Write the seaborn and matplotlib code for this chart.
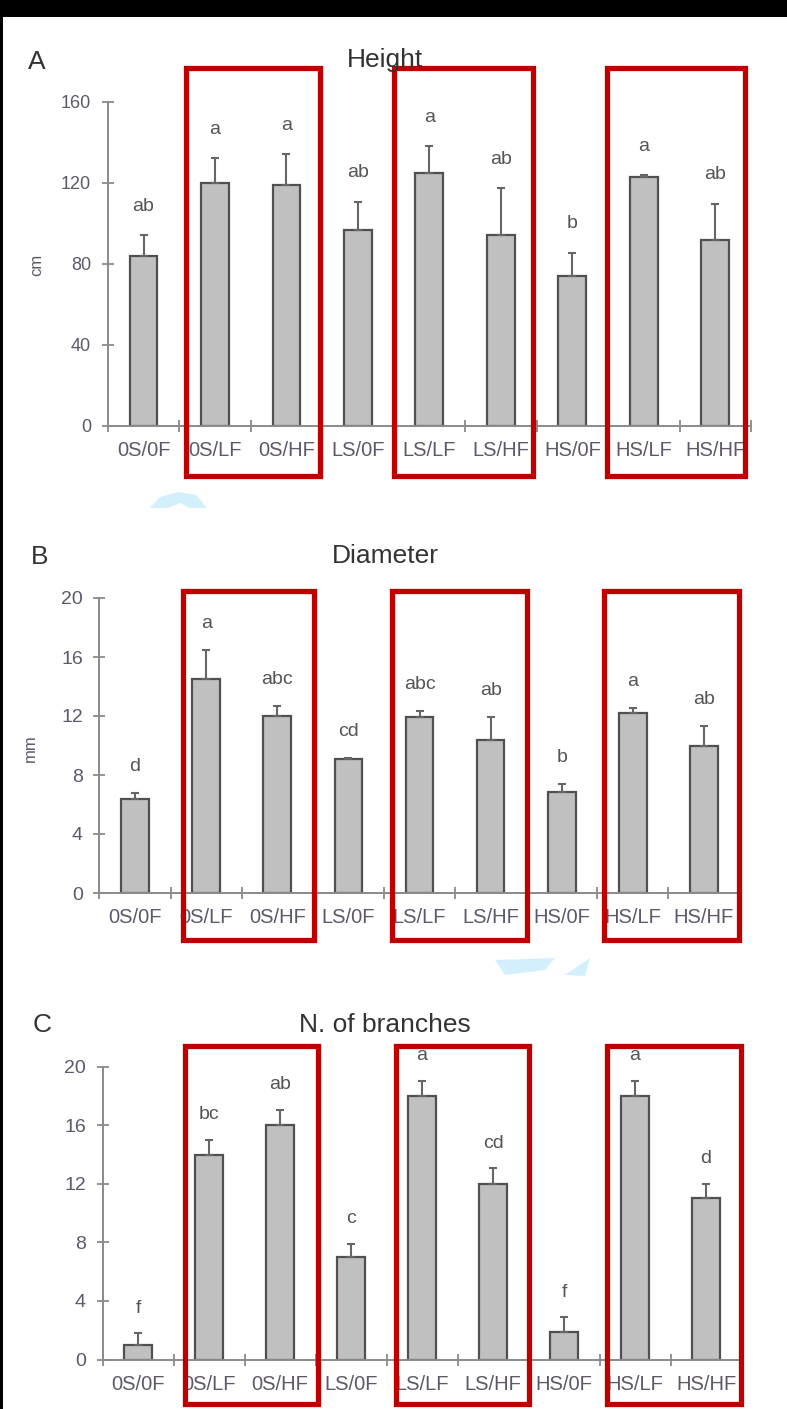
import numpy as np
import pandas as pd
import matplotlib
matplotlib.use("Agg")
import matplotlib.pyplot as plt
import seaborn as sns
from matplotlib.patches import Rectangle, Polygon, Wedge
from matplotlib.transforms import blended_transform_factory

# ---------------- data ----------------
categories = ["0S/0F", "0S/LF", "0S/HF", "LS/0F", "LS/LF", "LS/HF", "HS/0F", "HS/LF", "HS/HF"]

height_mean = [84, 120, 119, 96.5, 125, 94, 74, 123, 92]
height_err = [10, 12, 15, 14, 13, 23.3, 11.5, 0.6, 17.6]
height_letters = ["ab", "a", "a", "ab", "a", "ab", "b", "a", "ab"]
height_ticks = [0, 40, 80, 120, 160]

diam_mean = [6.4, 14.5, 12.0, 9.06, 11.95, 10.4, 6.87, 12.2, 10.0]
diam_err = [0.4, 2.0, 0.7, 0.1, 0.4, 1.55, 0.5, 0.35, 1.3]
diam_letters = ["d", "a", "abc", "cd", "abc", "ab", "b", "a", "ab"]
diam_ticks = [0, 4, 8, 12, 16, 20]

branch_mean = [1.0, 14.0, 16.0, 7.0, 18.0, 12.0, 1.9, 18.0, 11.0]
branch_err = [0.8, 1.0, 1.05, 0.9, 1.05, 1.05, 1.0, 1.05, 1.0]
branch_letters = ["f", "bc", "ab", "c", "a", "cd", "f", "a", "d"]
branch_ticks = [0, 4, 8, 12, 16, 20]

titles = ["Height", "Diameter", "N. of branches"]
panel_tags = ["A", "B", "C"]
ylabels = ["cm", "mm", ""]

# ---------------- style ----------------
sns.set_theme(style="white")
plt.rcParams["font.family"] = ["Liberation Sans", "DejaVu Sans"]

W, H = 787, 1409
fig = plt.figure(figsize=(W / 100, H / 100), dpi=100)
fig.patch.set_facecolor("white")

def fx(px):
    return px / W

def fy(py):
    return 1 - py / H

# axes boxes in pixel coords: (left, right, top(ymax), bottom(y0))
axes_px = [
    (107.8, 751.0, 101.7, 426.0),
    (99.5, 739.5, 598.0, 893.0),
    (102.5, 741.5, 1066.7, 1359.5),
]
# red boxes: (x0 cat, x1 cat), and (top px, bottom px)
red_boxes = [
    [(0.59, 2.47), (3.50, 5.45), (6.48, 8.41)],
    [(0.67, 2.52), (3.61, 5.51), (6.60, 8.49)],
    [(0.655, 2.535), (3.63, 5.51), (6.60, 8.49)],
]
red_y = [(68, 476), (590.5, 940), (1045.5, 1404)]
title_y = [60, 556, 1025]
tag_xy = [(37, 62), (40, 557), (42, 1025)]
ylabel_xy = [(37, 265), (30, 748), None]
letter_off = [21, 19, 18]

panels = [
    (height_mean, height_err, height_letters, height_ticks),
    (diam_mean, diam_err, diam_letters, diam_ticks),
    (branch_mean, branch_err, branch_letters, branch_ticks),
]

axis_col = "#8a8a8a"
tick_lab_col = "#5e5868"

for p, (means, errs, letters, yticks) in enumerate(panels):
    l, r, t, b = axes_px[p]
    ax = fig.add_axes([fx(l), fy(b), fx(r) - fx(l), fy(t) - fy(b)])
    df = pd.DataFrame({"cat": categories, "val": means})
    sns.barplot(data=df, x="cat", y="val", ax=ax, width=0.39, color="#c0c0c0",
                saturation=1, edgecolor="#505050", linewidth=1.6, errorbar=None)
    x = np.arange(len(categories))
    ax.errorbar(x, means, yerr=[np.zeros(len(means)), errs], fmt="none",
                ecolor="#666666", elinewidth=1.5, capsize=3, capthick=1.5, zorder=3)
    for i, (m, e, lab) in enumerate(zip(means, errs, letters)):
        ax.annotate(lab, (i, m + e), xytext=(0, letter_off[p]), textcoords="offset points",
                    ha="center", va="center", fontsize=14, color="#555555")
    ax.set_xlim(-0.5, len(categories) - 0.5)
    ax.set_ylim(yticks[0], yticks[-1])
    ax.set_xlabel("")
    ax.set_ylabel("")
    ax.patch.set_alpha(0)
    for s in ["top", "right"]:
        ax.spines[s].set_visible(False)
    for s in ["left", "bottom"]:
        ax.spines[s].set_color(axis_col)
        ax.spines[s].set_linewidth(1.4)
    ax.set_yticks(yticks)
    ax.set_yticklabels([str(v) for v in yticks])
    ax.tick_params(axis="y", direction="inout", length=8, width=1.3, color=axis_col,
                   labelsize=14 if p else 13, labelcolor=tick_lab_col, pad=8, left=True)
    ax.set_xticks(x)
    ax.set_xticklabels(categories)
    ax.tick_params(axis="x", which="major", length=0, labelsize=14.5,
                   labelcolor=tick_lab_col, pad=11)
    ax.set_xticks(np.arange(-0.5, len(categories), 1.0), minor=True)
    ax.tick_params(axis="x", which="minor", direction="inout", length=8, width=1.3,
                   color=axis_col, bottom=True)

    # red highlight boxes
    trans = blended_transform_factory(ax.transData, fig.transFigure)
    yt, yb = red_y[p]
    for (x0, x1) in red_boxes[p]:
        ax.add_patch(Rectangle((x0, fy(yb)), x1 - x0, fy(yt) - fy(yb), transform=trans,
                               fill=False, edgecolor="#c00000", linewidth=3.8,
                               clip_on=False, zorder=10))

    fig.text(fx(385), fy(title_y[p]), titles[p], ha="center", va="center",
             fontsize=19, color="#333333")
    fig.text(fx(tag_xy[p][0]), fy(tag_xy[p][1]), panel_tags[p], ha="center", va="center",
             fontsize=19, color="#333333")
    if ylabel_xy[p] is not None:
        fig.text(fx(ylabel_xy[p][0]), fy(ylabel_xy[p][1]), ylabels[p], ha="center",
                 va="center", rotation=90, fontsize=12, color=tick_lab_col)

# faint light-blue watermark fragments visible in the scan
wm = "#d4effc"
fig.patches.append(Polygon([(fx(150), fy(508)), (fx(160), fy(497)), (fx(178), fy(492)),
                            (fx(196), fy(495)), (fx(207), fy(508)), (fx(190), fy(508)),
                            (fx(180), fy(503)), (fx(168), fy(508))],
                           closed=True, transform=fig.transFigure, facecolor=wm,
                           edgecolor="none", zorder=0))
fig.patches.append(Polygon([(fx(495), fy(960)), (fx(555), fy(958)), (fx(545), fy(970)),
                            (fx(505), fy(975))],
                           closed=True, transform=fig.transFigure, facecolor=wm,
                           edgecolor="none", zorder=0))
fig.patches.append(Polygon([(fx(565), fy(975)), (fx(590), fy(958)), (fx(585), fy(976))],
                           closed=True, transform=fig.transFigure, facecolor=wm,
                           edgecolor="none", zorder=0))

# black frame strips of the scanned figure
fig.patches.append(Rectangle((0, fy(17)), 1, 17 / H, transform=fig.transFigure,
                             facecolor="black", edgecolor="none", zorder=0))
fig.patches.append(Rectangle((0, 0), 2.5 / W, 1, transform=fig.transFigure,
                             facecolor="black", edgecolor="none", zorder=0))

fig.savefig("out.png", dpi=100)
